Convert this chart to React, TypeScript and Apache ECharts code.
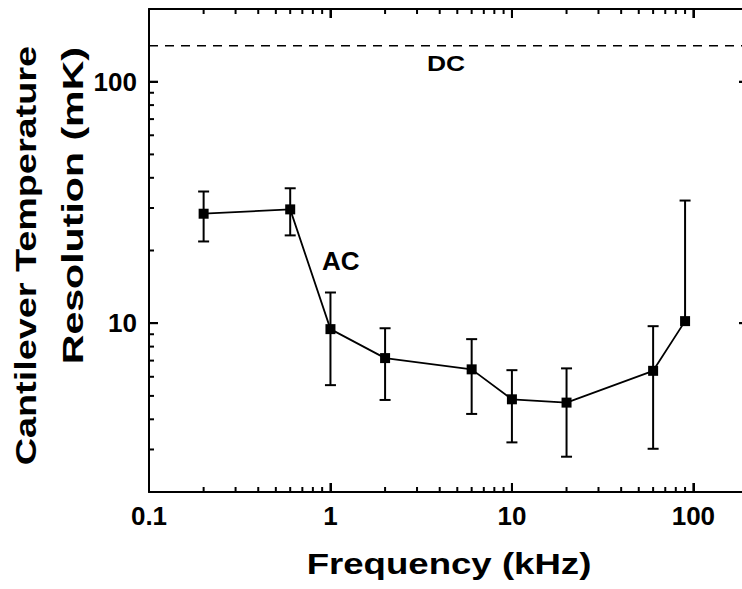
import React, { useEffect, useRef } from "react";
import * as echarts from "echarts";

// Data
const freqs = [0.2, 0.6, 1, 2, 6, 10, 20, 60, 90];
const resolution = [28.4, 29.6, 9.45, 7.17, 6.44, 4.84, 4.69, 6.35, 10.2];
const errLow = [21.8, 23.1, 5.54, 4.81, 4.21, 3.21, 2.8, 3.02, 10.2];
const errHigh = [35.1, 36.2, 13.4, 9.53, 8.59, 6.39, 6.5, 9.72, 32.2];
const dcLevel = 141;
const xRange = [0.1, 200];
const yRange = [2, 200];
const xMajorTicks = [1, 10, 100];
const yMajorTicks = [10, 100];
const xMinorTicks = [0.2, 0.3, 0.4, 0.5, 0.6, 0.7, 0.8, 0.9, 2, 3, 4, 5, 6, 7, 8, 9, 20, 30, 40, 50, 60, 70, 80, 90];
const yMinorTicks = [3, 4, 5, 6, 7, 8, 9, 20, 30, 40, 50, 60, 70, 80, 90];
const xTitle = "Frequency (kHz)";
const yTitle1 = "Cantilever Temperature";
const yTitle2 = "Resolution (mK)";

const FONT = '"Liberation Sans", Arial, Helvetica, sans-serif';
const GRID = { left: 149, right: -6, top: 9, bottom: 97, containLabel: false, outerBoundsMode: "none" };

const isPow10 = (v: number) => {
  const l = Math.log10(v);
  return Math.abs(l - Math.round(l)) < 1e-6;
};

const labelFmt = (v: number) => {
  if (!isPow10(v)) return "";
  const e = Math.round(Math.log10(v));
  return e < 0 ? String(Number(Math.pow(10, e).toFixed(-e))) : String(Math.pow(10, e));
};

// axes for the top (frame) layer
const frameAxis = (range: number[], position: string) => ({
  type: "log",
  min: range[0],
  max: range[1],
  position,
  splitLine: { show: false },
  axisLine: { show: true, onZero: false, lineStyle: { color: "#000", width: 2 } },
  axisTick: { show: true, inside: true, length: 9, lineStyle: { color: "#000", width: 2 } },
  axisLabel: { show: false },
});

// axes for the bottom (data + labels) layer
const labelAxis = (range: number[], position: string, margin: number) => ({
  type: "log",
  min: range[0],
  max: range[1],
  position,
  splitLine: { show: false },
  axisLine: { show: false, onZero: false },
  axisTick: { show: false },
  axisLabel: {
    show: true,
    color: "#000",
    fontSize: 26,
    fontWeight: "bold",
    fontFamily: FONT,
    margin,
    formatter: labelFmt,
  },
});

const lineEl = (x1: number, y1: number, x2: number, y2: number) => ({
  type: "line",
  shape: { x1, y1, x2, y2 },
  style: { stroke: "#000", lineWidth: 2 },
});

const textEl = (text: string, x: number, y: number, size: number, align: string, scaleX: number, rotation: number) => ({
  type: "text",
  x,
  y,
  rotation,
  scaleX,
  style: {
    text,
    font: `bold ${size}px ${FONT}`,
    fill: "#000",
    align,
    verticalAlign: "middle",
    textAlign: align,
    textVerticalAlign: "middle",
  },
});

const layerStyle: React.CSSProperties = { position: "absolute", left: 0, top: 0, width: 742, height: 589 };

export default function App() {
  const dataRef = useRef<HTMLDivElement>(null);
  const frameRef = useRef<HTMLDivElement>(null);
  useEffect(() => {
    if (!dataRef.current || !frameRef.current) return;
    const dataChart = echarts.init(dataRef.current, null, { renderer: "svg" });
    const frameChart = echarts.init(frameRef.current, null, { renderer: "svg" });

    const texts = [
      textEl(xTitle, 449, 564, 30, "center", 1.22, 0),
      textEl(yTitle1, 25, 46, 30, "right", 1.26, Math.PI / 2),
      textEl(yTitle2, 73, 47, 30, "right", 1.37, Math.PI / 2),
      textEl("DC", 446, 63, 22, "center", 1.2, 0),
      textEl("AC", 322, 261, 26, "left", 1, 0),
    ];

    dataChart.setOption({
      animation: false,
      backgroundColor: "#fff",
      grid: GRID,
      xAxis: [labelAxis(xRange, "bottom", 11)],
      yAxis: [labelAxis(yRange, "left", 12)],
      series: [
        {
          type: "line",
          name: "DC",
          data: [
            [xRange[0], dcLevel],
            [xRange[1], dcLevel],
          ],
          symbol: "none",
          silent: true,
          lineStyle: { color: "#000", width: 1.5, type: [9, 7] },
        },
        {
          type: "custom",
          name: "errors",
          silent: true,
          data: freqs.map((f, i) => [f, resolution[i], errLow[i], errHigh[i]]),
          encode: { x: 0, y: [2, 3] },
          renderItem: (params: any, api: any) => {
            const x = api.value(0);
            const y = api.value(1);
            const lo = api.value(2);
            const hi = api.value(3);
            const pHi = api.coord([x, hi]);
            const pLo = api.coord([x, lo]);
            const cap = 5.5;
            const children: any[] = [
              lineEl(pHi[0], pHi[1], pLo[0], pLo[1]),
              lineEl(pHi[0] - cap, pHi[1], pHi[0] + cap, pHi[1]),
            ];
            if (lo < y) children.push(lineEl(pLo[0] - cap, pLo[1], pLo[0] + cap, pLo[1]));
            return { type: "group", children };
          },
        },
        {
          type: "line",
          name: "AC",
          data: freqs.map((f, i) => [f, resolution[i]]),
          symbol: "rect",
          symbolSize: 10,
          itemStyle: { color: "#000" },
          lineStyle: { color: "#000", width: 1.8 },
          z: 5,
        },
      ],
    });

    // Tick marks positioned through the chart's own log scales
    const px = (v: number) => dataChart.convertToPixel({ xAxisIndex: 0 }, v) as number;
    const py = (v: number) => dataChart.convertToPixel({ yAxisIndex: 0 }, v) as number;
    const xl = px(xRange[0]);
    const xr = px(xRange[1]);
    const yb = py(yRange[0]);
    const yt = py(yRange[1]);
    const ticks: any[] = [];
    const addX = (v: number, len: number) => {
      const x = px(v);
      ticks.push(lineEl(x, yb, x, yb - len));
      ticks.push(lineEl(x, yt, x, yt + len));
    };
    const addY = (v: number, len: number) => {
      const y = py(v);
      ticks.push(lineEl(xl, y, xl + len, y));
      ticks.push(lineEl(xr, y, xr - len, y));
    };
    xMajorTicks.forEach((v) => addX(v, 9));
    xMinorTicks.forEach((v) => addX(v, 5));
    yMajorTicks.forEach((v) => addY(v, 9));
    yMinorTicks.forEach((v) => addY(v, 5));

    dataChart.setOption({ graphic: [...texts, ...ticks] });

    frameChart.setOption({
      animation: false,
      grid: GRID,
      xAxis: [frameAxis(xRange, "bottom"), frameAxis(xRange, "top")],
      yAxis: [frameAxis(yRange, "left"), frameAxis(yRange, "right")],
      series: [],
    });
    return () => {
      frameChart.dispose();
      dataChart.dispose();
    };
  }, []);
  return (
    <div style={{ position: "absolute", left: 0, top: 0, width: 742, height: 589, background: "#fff" }}>
      <div ref={dataRef} style={layerStyle} />
      <div ref={frameRef} style={{ ...layerStyle, pointerEvents: "none" }} />
    </div>
  );
}
